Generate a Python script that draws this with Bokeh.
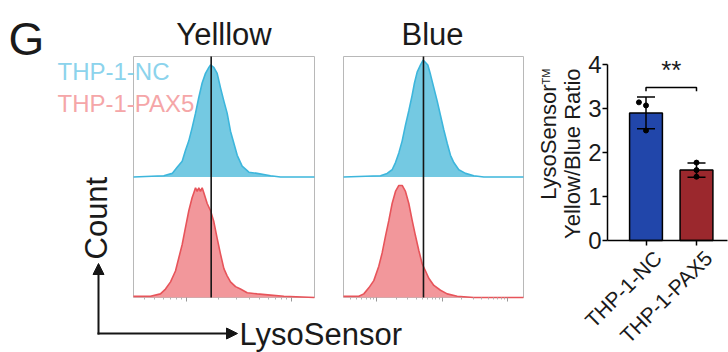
import numpy as np
from bokeh.plotting import figure
from bokeh.models import (Range1d, FixedTicker, Label, Arrow, NormalHead, LinearAxis)
from bokeh.core.properties import value
from bokeh.embed import file_html
from bokeh.resources import INLINE

FONT = "Liberation Sans"

# ---------------- data ----------------
# flow histograms: x = log10 fluorescence, y = % of panel height
yellow_nc_x = [2.495, 2.784, 2.864, 2.911, 2.959, 2.990, 3.022, 3.054, 3.086, 3.117,
               3.149, 3.181, 3.213, 3.229, 3.260, 3.292, 3.324, 3.356, 3.387, 3.419,
               3.451, 3.483, 3.530, 3.594, 3.673, 3.800, 3.895, 4.219]
yellow_nc_y = [0, 1, 3, 8, 13, 22, 30, 41, 53, 66,
               78, 86, 91, 93, 91, 86, 74, 63, 53, 38,
               28, 18, 9, 4, 3, 1, 0, 0]
yellow_pax5_x = [2.495, 2.657, 2.752, 2.800, 2.848, 2.895, 2.927, 2.959, 2.990, 3.022,
                 3.054, 3.070, 3.086, 3.102, 3.117, 3.133, 3.149, 3.165, 3.197, 3.229,
                 3.260, 3.292, 3.324, 3.356, 3.387, 3.419, 3.467, 3.514, 3.578, 3.673,
                 3.800, 3.927, 4.219]
yellow_pax5_y = [1, 1, 3, 7, 13, 22, 33, 44, 58, 72,
                 83, 87, 91, 88, 91, 88, 91, 87, 78, 72,
                 63, 49, 36, 24, 18, 13, 9, 7, 4, 3,
                 2, 1, 0]
blue_nc_x = [2.498, 3.061, 3.162, 3.238, 3.289, 3.340, 3.391, 3.441, 3.492, 3.543,
             3.578, 3.619, 3.670, 3.710, 3.746, 3.781, 3.822, 3.873, 3.924, 3.974,
             4.025, 4.076, 4.126, 4.177, 4.253, 4.355, 4.481, 4.633, 5.237]
blue_nc_y = [0, 1, 3, 6, 12, 20, 30, 43, 55, 68,
             78, 87, 93, 97, 95, 93, 85, 74, 63, 51,
             39, 28, 18, 12, 6, 3, 1, 0, 0]
blue_pax5_x = [2.498, 2.655, 2.731, 2.807, 2.883, 2.959, 3.035, 3.086, 3.137, 3.188,
               3.238, 3.289, 3.340, 3.391, 3.441, 3.492, 3.543, 3.594, 3.644, 3.695,
               3.746, 3.796, 3.873, 3.974, 4.076, 4.228, 4.481, 5.237]
blue_pax5_y = [1, 1, 1, 3, 8, 14, 26, 37, 51, 64,
               78, 88, 93, 93, 88, 78, 64, 51, 39, 28,
               22, 16, 10, 6, 3, 1, 0, 0]
yellow_gate = 3.235
blue_gate = 3.715
yellow_decades = [3, 4]
blue_decades = [3, 4, 5]
panel_titles = ["Yelllow", "Blue"]
legend_labels = ["THP-1-NC", "THP-1-PAX5"]

# bar chart
groups = ["THP-1-NC", "THP-1-PAX5"]
ratio_mean = [2.90, 1.60]
ratio_sd = [0.36, 0.16]
nc_points = [3.14, 3.07, 2.50]
pax5_points = [1.77, 1.60, 1.45]
nc_jitter = [-0.14, 0.0, 0.0]
pax5_jitter = [0.0, 0.0, 0.0]
bracket_y = 3.48
bracket_drop = 0.09
sig_text = "**"
y_ticks = [0, 1, 2, 3, 4]

# ---------------- styles / layout (page pixels) ----------------
NC_FILL, NC_LINE, NC_TEXT = "#74c9e2", "#3db6dc", "#8cd3ec"
PX_FILL, PX_LINE, PX_TEXT = "#f2979b", "#e7545a", "#f5a6a8"
NC_BAR, PX_BAR = "#2146aa", "#9b282d"
TXT = "#1a1a1a"
W, H = 728, 352
BASE_FIX = 0.36   # label anchor correction (fraction of font size)

# histogram panels
H_TOP, H_BOT = 56, 297            # page y of y=200 and y=0
HK = (H_BOT - H_TOP) / 200.0      # px per unit
Y_LEFT, Y_RIGHT, Y_DEC3, Y_PXD = 133, 314, 186, 105.0
B_LEFT, B_RIGHT, B_DEC3, B_PXD = 343, 523, 376, 65.7
# bar chart
BAR_X0, BAR_PXU = 645.5, 50.5     # page x of first category, px per category
BAR_Y0, BAR_PYU = 240, 44.0       # page y of 0, px per unit
BAR_AX_LEFT, BAR_AX_RIGHT = 607, 727


def xr(origin_px, origin_val, pxu):
    return Range1d(origin_val - origin_px / pxu, origin_val + (W - origin_px) / pxu)


def yr(origin_py, pyu):
    return Range1d(-(H - origin_py) / pyu, origin_py / pyu)


p = figure(width=W, height=H, x_range=xr(Y_DEC3, 3, Y_PXD), y_range=yr(H_BOT, HK),
           output_backend="svg", toolbar_location=None,
           x_axis_location=None, y_axis_location=None, min_border=0)
p.extra_x_ranges = {"blue": xr(B_DEC3, 3, B_PXD), "bar": xr(BAR_X0, 0, BAR_PXU)}
p.extra_y_ranges = {"bar": yr(BAR_Y0, BAR_PYU)}
p.grid.visible = False
p.outline_line_color = None
p.background_fill_color = "white"
p.border_fill_color = "white"


def lbl(text, x, y, size, color=TXT, align="left", angle=0.0):
    # x, y = page pixels of the text baseline anchor (top-left origin)
    px = float(size.replace("px", ""))
    x = x - BASE_FIX * px * np.sin(angle)
    y = y - BASE_FIX * px * np.cos(angle)
    p.add_layout(Label(x=x, y=H - y, x_units="screen", y_units="screen", text=text,
                       text_font=FONT, text_font_size=size, text_color=color,
                       text_align=align, text_baseline="alphabetic", angle=angle))


def panel(rname, nc_x, nc_y, px_x, px_y, gate, decades, left, right, dec3, pxd):
    x0 = 3 + (left - dec3) / pxd
    x1 = 3 + (right - dec3) / pxd
    p.quad(left=[x0], right=[x1], bottom=[0], top=[200], fill_color=None,
           line_color="#b8b8b8", line_width=1, x_range_name=rname)
    top_y = [100 + v for v in nc_y]
    p.varea(x=nc_x, y1=100, y2=top_y, fill_color=NC_FILL, x_range_name=rname)
    p.line(nc_x, top_y, line_color=NC_LINE, line_width=1.6, x_range_name=rname)
    p.varea(x=px_x, y1=0, y2=px_y, fill_color=PX_FILL, x_range_name=rname)
    p.line(px_x, px_y, line_color=PX_LINE, line_width=1.6, x_range_name=rname)
    p.segment(x0=[gate], y0=[0], x1=[gate], y1=[200], line_color="#151515",
              line_width=1.6, x_range_name=rname)
    minors = [d + np.log10(k) for d in range(1, 7) for k in range(2, 10)]
    minors = [m for m in minors if x0 <= m <= x1]
    for ticks, length, color in ((decades, 4, "#999999"), (minors, 2, "#b3b3b3")):
        ax = LinearAxis(x_range_name=rname, fixed_location=0, bounds=(x0, x1),
                        ticker=FixedTicker(ticks=[], minor_ticks=ticks))
        ax.axis_line_color = None
        ax.major_tick_line_color = None
        ax.minor_tick_line_color = color
        ax.minor_tick_in = 0
        ax.minor_tick_out = length
        p.add_layout(ax, "below")


panel("default", yellow_nc_x, yellow_nc_y, yellow_pax5_x, yellow_pax5_y, yellow_gate,
      yellow_decades, Y_LEFT, Y_RIGHT, Y_DEC3, Y_PXD)
panel("blue", blue_nc_x, blue_nc_y, blue_pax5_x, blue_pax5_y, blue_gate,
      blue_decades, B_LEFT, B_RIGHT, B_DEC3, B_PXD)

# ---------------- texts and arrows of the left part ----------------
lbl("G", 8, 55, "46px")
lbl(panel_titles[0], (Y_LEFT + Y_RIGHT) / 2, 45, "31px", align="center")
lbl(panel_titles[1], (B_LEFT + B_RIGHT) / 2 - 1, 45, "31px", align="center")
lbl(legend_labels[0], 57, 80, "24px", color=NC_TEXT)
lbl(legend_labels[1], 57, 112, "24px", color=PX_TEXT)
lbl("Count", 107, 259, "31px", angle=np.pi / 2)
lbl("LysoSensor", 239, 345, "31px")
p.add_layout(Arrow(x_start=98, y_start=H - 334, x_end=98, y_end=H - 263,
                   start_units="screen", end_units="screen", line_color="#151515", line_width=2,
                   end=NormalHead(size=11, fill_color="#151515", line_color="#151515")))
p.add_layout(Arrow(x_start=97, y_start=H - 333, x_end=237, y_end=H - 333,
                   start_units="screen", end_units="screen", line_color="#151515", line_width=2,
                   end=NormalHead(size=11, fill_color="#151515", line_color="#151515")))

# ---------------- bar chart ----------------
xs = list(range(len(groups)))
upper = [m + s for m, s in zip(ratio_mean, ratio_sd)]
lower = [m - s for m, s in zip(ratio_mean, ratio_sd)]
BR = dict(x_range_name="bar", y_range_name="bar")
p.vbar(x=xs, top=ratio_mean, width=0.65, fill_color=[NC_BAR, PX_BAR],
       line_color="black", line_width=1.5, **BR)
p.segment(x0=xs, y0=lower, x1=xs, y1=upper, line_color="black", line_width=1.5, **BR)
p.scatter(x=xs + xs, y=upper + lower, marker="dash", size=18, line_color="black",
          line_width=1.5, **BR)
p.scatter([xs[0] + j for j in nc_jitter], nc_points, size=5, color="black", **BR)
p.scatter([xs[1] + j for j in pax5_jitter], pax5_points, size=5, color="black", **BR)
p.line([xs[0], xs[0], xs[1], xs[1]],
       [bracket_y - bracket_drop, bracket_y, bracket_y, bracket_y - bracket_drop],
       line_color="black", line_width=1.5, **BR)
p.text(x=xs, y=[0] * len(xs), text=groups, angle=np.pi / 4, text_align="right",
       text_baseline="middle", x_offset=12, y_offset=14, text_font=value(FONT),
       text_font_size=value("21px"), text_color=TXT, **BR)

bx_left = (BAR_AX_LEFT - BAR_X0) / BAR_PXU
bx_right = (BAR_AX_RIGHT - BAR_X0) / BAR_PXU
ya = LinearAxis(fixed_location=bx_left, bounds=(0, 4),
                ticker=FixedTicker(ticks=y_ticks, minor_ticks=[]), **BR)
ya.major_label_text_font = FONT
ya.major_label_text_font_size = "24px"
ya.major_label_text_color = TXT
ya.major_label_standoff = 1
ya.major_tick_in = 0
ya.major_tick_out = 5
ya.axis_line_width = 1.5
ya.major_tick_line_width = 1.5
p.add_layout(ya, "left")
xa = LinearAxis(fixed_location=0, bounds=(bx_left, bx_right),
                ticker=FixedTicker(ticks=[], minor_ticks=xs), **BR)
xa.axis_line_width = 1.5
xa.major_tick_line_color = None
xa.minor_tick_in = 0
xa.minor_tick_out = 5
xa.minor_tick_line_width = 1.5
xa.minor_tick_line_color = "black"
p.add_layout(xa, "below")

lbl(sig_text, (BAR_X0 + BAR_X0 + BAR_PXU) / 2, 79, "26px", align="center")
lbl("LysoSensor", 556, 84, "22px", align="right", angle=np.pi / 2)
lbl("TM", 549, 68, "11px", align="right", angle=np.pi / 2)
lbl("Yellow/Blue Ratio", 580, 68, "22px", align="right", angle=np.pi / 2)

open("out.html", "w").write(file_html(p, INLINE))
